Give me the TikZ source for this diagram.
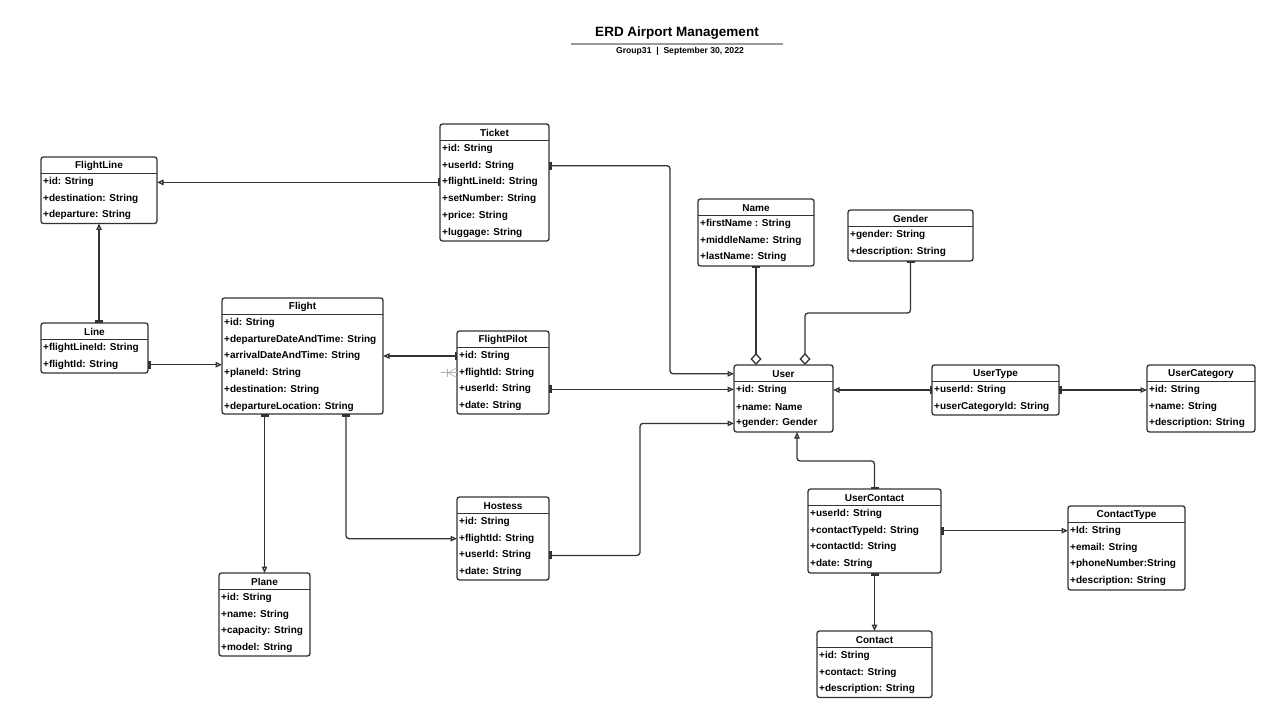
\documentclass[tikz,border=0pt]{standalone}
\usepackage{fontspec}
\setmainfont{Liberation Sans}
\usetikzlibrary{arrows.meta}
\definecolor{ink}{HTML}{333333}
\definecolor{rule}{HTML}{9A9A9A}
\tikzset{
 entbox/.style={draw=ink, line width=1.3pt, rounded corners=2.5pt, inner sep=0pt, outer sep=0pt, fill=white},
 entline/.style={draw=ink, line width=1.2pt},
 enttitle/.style={font=\fontsize{10}{12}\selectfont\bfseries, text=black, inner sep=0pt},
 entrow/.style={font=\fontsize{10}{12}\selectfont\bfseries, text=black, inner sep=0pt, anchor=west},
 conn/.style={draw=ink, line width=1.3pt, rounded corners=3pt, {Rectangle[length=2.5pt,width=8pt]}-{Triangle[open,length=6.5pt,width=5.5pt]}},
 aggr/.style={draw=ink, line width=1.3pt, rounded corners=3pt, {Rectangle[length=2.5pt,width=8pt]}-{Diamond[open,length=12pt,width=11pt]}},
 stub/.style={draw=gray!60, line width=0.6pt},
}
\newcommand\erdentity[7]{%
 \node[entbox, minimum width=#4pt, minimum height=#5pt, anchor=north west] (#1) at (#2,#3) {};
 \draw[entline] ([yshift=-16.5pt]#1.north west) -- ([yshift=-16.5pt]#1.north east);
 \node[enttitle] (#1-t) at ([yshift=-8.8pt]#1.north) {#6};
 \foreach \rowtxt [count=\i] in {#7} {
  \node[entrow] (#1-\i) at ([xshift=2pt, yshift={-(8.3+16.7*\i)*1pt}]#1.north west) {\rowtxt};
 }
}
\begin{document}
\begin{tikzpicture}[x=1pt, y=-1pt]
\fill[white] (0,0) rectangle (1280,719);
\useasboundingbox (0,0) rectangle (1280,719);

% title
\node[font=\fontsize{13.5}{16}\selectfont\bfseries, inner sep=0pt] (title) at (677,33.5) {ERD Airport Management};
\draw[rule, line width=1.6pt] (571,44) -- (783,44);
\node[font=\fontsize{8.6}{10}\selectfont\bfseries, inner sep=0pt] (subtitle) at (680,51.5) {Group31 ~|~ September 30, 2022};

% entities
\erdentity{flightline}{41}{157}{116}{66.5}{FlightLine}{+id: String,+destination: String,+departure: String}
\erdentity{ticket}{440}{124}{109}{117}{Ticket}{+id: String,+userId: String,+flightLineId: String,+setNumber: String,+price: String,+luggage: String}
\erdentity{line}{41}{323}{107}{50}{Line}{+flightLineId: String,+flightId: String}
\erdentity{flight}{222}{298}{161}{116}{Flight}{+id: String,+departureDateAndTime: String,+arrivalDateAndTime: String,+planeId: String,+destination: String,+departureLocation: String}
\erdentity{fpilot}{457}{331}{92}{83}{FlightPilot}{+id: String,+flightId: String,+userId: String,+date: String}
\erdentity{name}{698}{199}{116}{67}{Name}{+firstName : String,+middleName: String,+lastName: String}
\erdentity{gender}{848}{210}{125}{51}{Gender}{+gender: String,+description: String}
\erdentity{user}{734}{365}{99}{67}{User}{+id: String,+name: Name,+gender: Gender}
\erdentity{utype}{932}{365}{127}{50}{UserType}{+userId: String,+userCategoryId: String}
\erdentity{ucat}{1147}{365}{108}{67}{UserCategory}{+id: String,+name: String,+description: String}
\erdentity{hostess}{457}{497}{92}{83}{Hostess}{+id: String,+flightId: String,+userId: String,+date: String}
\erdentity{plane}{219}{573}{91}{83}{Plane}{+id: String,+name: String,+capacity: String,+model: String}
\erdentity{ucontact}{808}{489}{133}{84}{UserContact}{+userId: String,+contactTypeId: String,+contactId: String,+date: String}
\erdentity{ctype}{1068}{506}{117}{84}{ContactType}{+Id: String,+email: String,+phoneNumber:String,+description: String}
\erdentity{contact}{817}{631}{115}{66.5}{Contact}{+id: String,+contact: String,+description: String}

% connectors
\draw[conn] (ticket.west |- ticket-3) -- (flightline.east |- ticket-3);
\draw[conn] (line.north -| flightline.south) -- (flightline.south);
\draw[conn] (line.east |- line-2) -- (flight.west |- line-2);
\draw[conn] (fpilot.west |- fpilot-1) -- (flight.east |- fpilot-1);
\draw[conn] (fpilot.east |- fpilot-3) -- (user.west |- fpilot-3);
\draw[conn] (ticket.east |- ticket-2) -- ++(121,0) |- (user.west |- user-t);
\draw[conn] (hostess.east |- hostess-3) -- ++(91,0) |- (user.west |- user-3);
\draw[conn] (flight.south -| plane.north) -- (plane.north);
\draw[conn] ([xshift=43.5pt]flight.south) |- (hostess.west |- hostess-2);
\draw[aggr] (name.south) -- (name.south |- user.north);
\draw[aggr] (gender.south) -- ++(0,52) -| ([xshift=21.5pt]user.north);
\draw[conn] (utype.west |- utype-1) -- (user.east |- utype-1);
\draw[conn] (utype.east |- utype-1) -- (ucat.west |- utype-1);
\draw[conn] (ucontact.north) -- ++(0,-28) -| ([xshift=13.5pt]user.south);
\draw[conn] (ucontact.east |- ucontact-2) -- (ctype.west |- ucontact-2);
\draw[conn] (ucontact.south) -- (contact.north);

% dangling crow's foot stub at FlightPilot
\coordinate (cfend) at ([xshift=-16pt]fpilot.west |- fpilot-2);
\draw[stub] (cfend) -- (fpilot.west |- fpilot-2);
\draw[stub] ([xshift=-9pt]fpilot.west |- fpilot-2) -- ([yshift=5pt]fpilot.west |- fpilot-2);
\draw[stub] ([xshift=-9pt]fpilot.west |- fpilot-2) -- ([yshift=-5pt]fpilot.west |- fpilot-2);
\draw[stub] ([xshift=-10pt, yshift=4pt]fpilot.west |- fpilot-2) -- ([xshift=-10pt, yshift=-4pt]fpilot.west |- fpilot-2);
\end{tikzpicture}
\end{document}
